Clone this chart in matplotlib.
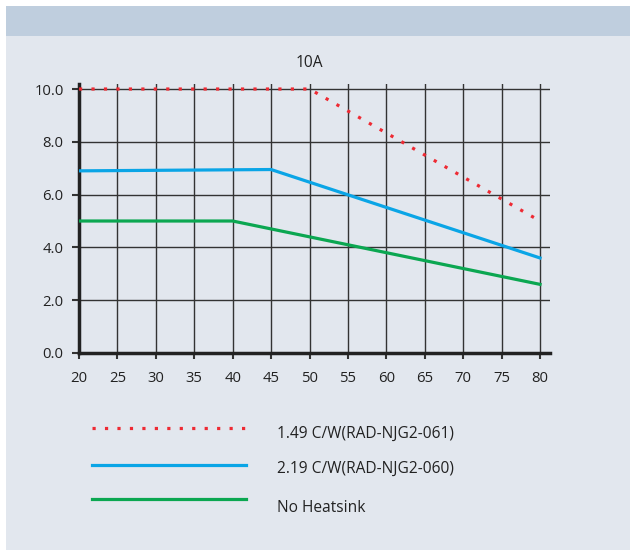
import matplotlib
matplotlib.use("Agg")
import matplotlib.pyplot as plt
from matplotlib.patches import Rectangle
from matplotlib.lines import Line2D

plt.rcParams['font.family'] = ['Open Sans', 'DejaVu Sans']

# data (temperature vs current, 10A part)
temp_red = [20, 50, 80]
amps_red = [10.0, 10.0, 5.0]
temp_blue = [20, 45, 80]
amps_blue = [6.9, 6.95, 3.6]
temp_green = [20, 40, 80]
amps_green = [5.0, 5.0, 2.6]

labels = ["1.49 C/W(RAD-NJG2-061)", "2.19 C/W(RAD-NJG2-060)", "No Heatsink"]
colors = ["#EE2A33", "#0AA5E6", "#0BA751"]
xticks = list(range(20, 81, 5))
yticks = [0, 2, 4, 6, 8, 10]

W, H = 630, 550
fig = plt.figure(figsize=(W / 100, H / 100), dpi=100)
fig.patch.set_facecolor("white")


def fx(px):
    return px / W


def fy(py):
    return 1 - py / H


# panel background and top band
fig.add_artist(Rectangle((fx(6), 0), 1 - fx(6), fy(6), transform=fig.transFigure,
                         facecolor="#E2E7EE", edgecolor="none", zorder=0))
fig.add_artist(Rectangle((fx(6), fy(36)), 1 - fx(6), fy(6) - fy(36), transform=fig.transFigure,
                         facecolor="#BFCEDE", edgecolor="none", zorder=0))

ax = fig.add_axes([fx(79), fy(353), fx(550) - fx(79), fy(84) - fy(353)])
ax.set_facecolor("none")

dots = (0, (1, 2.9))
ax.plot(temp_blue, amps_blue, color=colors[1], lw=2.3, zorder=3)
ax.plot(temp_green, amps_green, color=colors[2], lw=2.3, zorder=3)
ax.plot(temp_red, amps_red, color=colors[0], lw=2.3, ls=dots, zorder=4)

ax.set_xlim(20, 81.3)
ax.set_ylim(0, 10.19)
ax.set_xticks(xticks)
ax.set_yticks(yticks)
ax.set_yticklabels(["%.1f" % v for v in yticks])
ax.grid(True, color="#333333", lw=1.0)
ax.set_axisbelow(True)

for s in ["top", "right"]:
    ax.spines[s].set_visible(False)
ax.spines["left"].set_linewidth(2.5)
ax.spines["bottom"].set_linewidth(2.5)
ax.spines["left"].set_color("#222222")
ax.spines["bottom"].set_color("#222222")
ax.tick_params(axis="y", length=5, width=1.5, color="#333333", labelsize=10.7,
               labelcolor="#222222", pad=6)
ax.tick_params(axis="x", length=4, width=1.5, color="#333333", labelsize=10.7,
               labelcolor="#222222", pad=9)

fig.text(fx(309), fy(67), "10A", ha="center", va="baseline", fontsize=11.2, color="#222222")

# legend drawn below the plot
line_y = [428, 465, 499]
text_base = [438, 473, 512]
styles = [dots, "-", "-"]
for lab, c, st, ly, ty in zip(labels, colors, styles, line_y, text_base):
    fig.add_artist(Line2D([fx(92), fx(246)], [fy(ly), fy(ly)], transform=fig.transFigure,
                          color=c, lw=2.3, ls=st))
    fig.text(fx(277), fy(ty), lab, ha="left", va="baseline", fontsize=11.2, color="#222222")

fig.savefig("out.png", dpi=100, facecolor=fig.get_facecolor())
